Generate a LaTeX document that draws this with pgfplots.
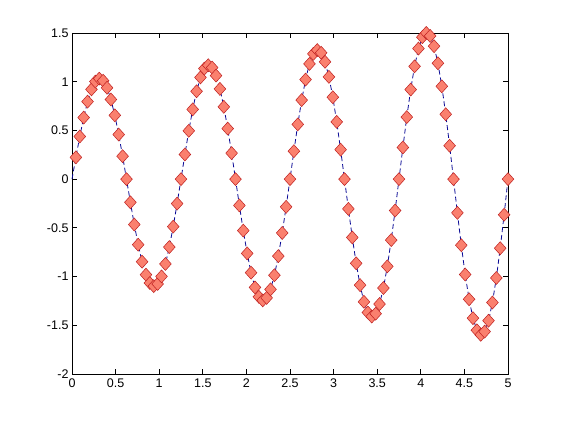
\documentclass[border=0pt]{standalone}
\usepackage{pgfplots}
\usepackage{pgfplotstable}
\pgfplotsset{compat=1.18}
\usepackage{fontspec}
\setmainfont{Liberation Sans}
\definecolor{lineblue}{RGB}{10,10,150}
\definecolor{mfill}{RGB}{250,128,110}
\definecolor{medge}{RGB}{190,30,30}
\pgfplotstableread{
x y
0 0
0.0446 0.2235
0.0893 0.4378
0.1339 0.6319
0.1786 0.7959
0.2232 0.9213
0.2679 1.0014
0.3125 1.0317
0.3571 1.0104
0.4018 0.9379
0.4464 0.8175
0.4911 0.6549
0.5357 0.4578
0.5804 0.2358
0.6250 0
0.6696 -0.2379
0.7143 -0.4660
0.7589 -0.6727
0.8036 -0.8472
0.8482 -0.9807
0.8929 -1.0660
0.9375 -1.0983
0.9821 -1.0755
1.0268 -0.9984
1.0714 -0.8703
1.1161 -0.6971
1.1607 -0.4873
1.2054 -0.2510
1.2500 0
1.2946 0.2533
1.3393 0.4961
1.3839 0.7160
1.4286 0.9019
1.4732 1.0440
1.5179 1.1347
1.5625 1.1691
1.6071 1.1449
1.6518 1.0628
1.6964 0.9263
1.7411 0.7421
1.7857 0.5188
1.8304 0.2672
1.8750 0
1.9196 -0.2696
1.9643 -0.5280
2.0089 -0.7623
2.0536 -0.9600
2.0982 -1.1113
2.1429 -1.2079
2.1875 -1.2445
2.2321 -1.2187
2.2768 -1.1313
2.3214 -0.9862
2.3661 -0.7899
2.4107 -0.5522
2.4554 -0.2844
2.5000 0
2.5446 0.2870
2.5893 0.5621
2.6339 0.8114
2.6786 1.0220
2.7232 1.1830
2.7679 1.2858
2.8125 1.3247
2.8571 1.2974
2.9018 1.2043
2.9464 1.0497
2.9911 0.8409
3.0357 0.5878
3.0804 0.3028
3.1250 0
3.1696 -0.3055
3.2143 -0.5984
3.2589 -0.8638
3.3036 -1.0878
3.3482 -1.2592
3.3929 -1.3688
3.4375 -1.4102
3.4821 -1.3810
3.5268 -1.2820
3.5714 -1.1175
3.6161 -0.8951
3.6607 -0.6257
3.7054 -0.3223
3.7500 0
3.7946 0.3252
3.8393 0.6370
3.8839 0.9194
3.9286 1.1580
3.9732 1.3405
4.0179 1.4570
4.0625 1.5011
4.1071 1.4701
4.1518 1.3646
4.1964 1.1894
4.2411 0.9529
4.2857 0.6661
4.3304 0.3431
4.3750 0
4.4196 -0.3461
4.4643 -0.6780
4.5089 -0.9788
4.5536 -1.2327
4.5982 -1.4269
4.6429 -1.5510
4.6875 -1.5980
4.7321 -1.5648
4.7768 -1.4527
4.8214 -1.2663
4.8661 -1.0143
4.9107 -0.7090
4.9554 -0.3652
5.0000 0
}\datatable
\begin{document}
\begin{tikzpicture}
\fill[white] (0,0) rectangle (561pt,420pt);
\useasboundingbox (0,0) rectangle (561pt,420pt);
\begin{axis}[
  at={(72pt,46pt)}, anchor=south west,
  scale only axis, width=436pt, height=341pt,
  xmin=0, xmax=5, ymin=-2, ymax=1.5,
  xtick={0,0.5,1,1.5,2,2.5,3,3.5,4,4.5,5},
  xticklabels={0,0.5,1,1.5,2,2.5,3,3.5,4,4.5,5},
  ytick={-2,-1.5,-1,-0.5,0,0.5,1,1.5},
  yticklabels={-2,-1.5,-1,-0.5,0,0.5,1,1.5},
  tick align=inside,
  major tick length=5pt,
  axis line style={black, line width=0.8pt},
  tick style={black, line width=0.8pt},
  tick label style={font=\fontsize{12.5}{15}\selectfont},
  xticklabel style={yshift=-1.5pt},
  clip=false,
]
\addplot[lineblue, line width=0.8pt, dash pattern=on 5pt off 3pt, no marks] table[x=x,y=y] {\datatable};
\addplot[only marks, mark=diamond*, mark size=6.5pt,
  mark options={solid, fill=mfill, draw=medge, line width=0.5pt, xscale=1.2},
  skip coords between index={0}{1}] table[x=x,y=y] {\datatable};
\end{axis}
\end{tikzpicture}
\end{document}
